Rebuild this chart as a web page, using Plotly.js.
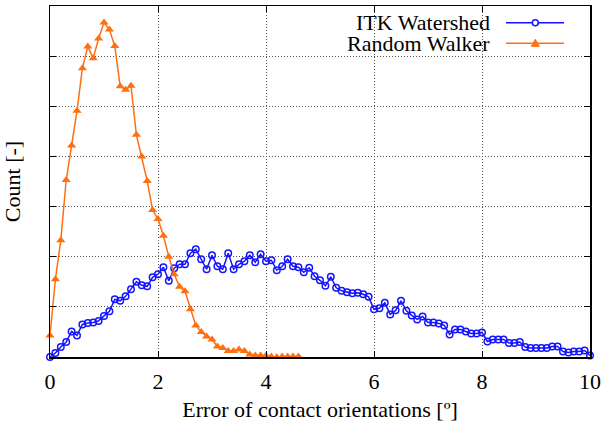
<!DOCTYPE html>
<html>
<head>
<meta charset="utf-8">
<script src="https://cdn.plot.ly/plotly-3.0.1.min.js"></script>
<style>html,body{margin:0;padding:0;background:#fff;}#chart{width:604px;height:430px;}</style>
</head>
<body>
<div id="chart"></div>
<script>
// Error of contact orientations [º] — histogram counts (arbitrary units, y ticks unlabeled)
const rwX = [0.0,0.1,0.2,0.3,0.4,0.5,0.6,0.7,0.8,0.9,1.0,1.1,1.2,1.3,1.4,1.5,1.6,1.7,1.8,1.9,2.0,2.1,2.2,2.3,2.4,2.5,2.6,2.7,2.8,2.9,3.0,3.1,3.2,3.3,3.4,3.5,3.6,3.7,3.8,3.9,4.0,4.1,4.2,4.3,4.4,4.5,4.6];
const rwY = [0.43,1.55,2.33,3.53,4.22,4.91,5.76,6.19,5.96,6.35,6.67,6.53,6.2,5.4,5.33,5.41,4.43,4.0,3.51,2.93,2.75,2.42,2.0,1.65,1.4,1.31,0.95,0.63,0.5,0.41,0.35,0.21,0.18,0.12,0.12,0.15,0.12,0.05,0.03,0.03,0.03,0.01,0.0,0.01,0.01,0.01,0.01];

const itkX = [0.0,0.1,0.2,0.3,0.4,0.5,0.6,0.7,0.8,0.9,1.0,1.1,1.2,1.3,1.4,1.5,1.6,1.7,1.8,1.9,2.0,2.1,2.2,2.3,2.4,2.5,2.6,2.7,2.8,2.9,3.0,3.1,3.2,3.3,3.4,3.5,3.6,3.7,3.8,3.9,4.0,4.1,4.2,4.3,4.4,4.5,4.6,4.7,4.8,4.9,5.0,5.1,5.2,5.3,5.4,5.5,5.6,5.7,5.8,5.9,6.0,6.1,6.2,6.3,6.4,6.5,6.6,6.7,6.8,6.9,7.0,7.1,7.2,7.3,7.4,7.5,7.6,7.7,7.8,7.9,8.0,8.1,8.2,8.3,8.4,8.5,8.6,8.7,8.8,8.9,9.0,9.1,9.2,9.3,9.4,9.5,9.6,9.7,9.8,9.9,10.0];
const itkY = [0.0,0.08,0.2,0.3,0.51,0.43,0.65,0.68,0.69,0.72,0.82,0.91,1.15,1.12,1.21,1.35,1.5,1.43,1.41,1.59,1.65,1.79,1.52,1.77,1.85,1.85,2.07,2.15,1.95,1.75,2.03,1.81,1.75,2.07,1.75,1.85,1.91,2.03,1.89,2.05,1.91,1.93,1.73,1.81,1.95,1.81,1.79,1.69,1.78,1.61,1.53,1.42,1.6,1.38,1.32,1.29,1.27,1.28,1.25,1.2,0.95,0.97,1.08,0.85,0.93,1.12,0.92,0.83,0.75,0.81,0.69,0.69,0.67,0.63,0.45,0.55,0.55,0.51,0.47,0.47,0.49,0.31,0.35,0.35,0.35,0.28,0.28,0.3,0.2,0.18,0.18,0.18,0.18,0.21,0.21,0.11,0.09,0.11,0.11,0.13,0.03];

const xTicks = [0,2,4,6,8,10];
const seriesNames = ['ITK Watershed','Random Walker'];
const blue = '#1414ff';
const orange = '#ff6f12';
const FONT = 'Liberation Serif, Times New Roman, serif';
const FS = 22;

const traces = [
  {x: itkX, y: itkY, type: 'scatter', mode: 'lines+markers', name: seriesNames[0], cliponaxis: false,
   line: {color: blue, width: 1.5},
   marker: {symbol: 'circle-open', size: 6.5, color: blue, line: {width: 1.5, color: blue}}},
  {x: rwX, y: rwY, type: 'scatter', mode: 'lines+markers', name: seriesNames[1], cliponaxis: false,
   line: {color: orange, width: 1.5},
   marker: {symbol: 'triangle-up', size: 8, color: orange}}
];

// Legend drawn manually (text left of sample, as in the reference)
const L = 50, R = 14, T = 6, B = 73, W = 604, H = 430;
const pw = W - L - R, ph = H - T - B;
const px = v => (v - L) / pw;
const py = v => (H - B - v) / ph;
const legRows = [
  {name: seriesNames[0], y: 22.7, color: blue, sym: 'circle'},
  {name: seriesNames[1], y: 43.3, color: orange, sym: 'triangle'}
];
const shapes = [], annotations = [];
legRows.forEach(r => {
  shapes.push({type: 'line', xref: 'paper', yref: 'paper', x0: px(506), x1: px(564), y0: py(r.y), y1: py(r.y),
    line: {color: r.color, width: 1.5}});
  if (r.sym === 'circle') {
    shapes.push({type: 'circle', xref: 'paper', yref: 'paper', x0: px(532.3), x1: px(538.3), y0: py(r.y + 3), y1: py(r.y - 3),
      line: {color: r.color, width: 1.5}, fillcolor: 'white'});
  } else {
    const cx = 535.3, cy = r.y;
    shapes.push({type: 'path', xref: 'paper', yref: 'paper',
      path: `M ${px(cx - 4)} ${py(cy + 3)} L ${px(cx + 4)} ${py(cy + 3)} L ${px(cx)} ${py(cy - 4)} Z`,
      line: {color: r.color, width: 1}, fillcolor: r.color});
  }
  annotations.push({text: r.name, xref: 'paper', yref: 'paper', x: px(492), y: py(r.y), xanchor: 'right', yanchor: 'middle',
    showarrow: false, font: {family: FONT, size: FS, color: '#000'}});
});

const layout = {
  width: W, height: H,
  margin: {l: L, r: R, t: T, b: B},
  paper_bgcolor: '#fff', plot_bgcolor: '#fff',
  showlegend: false,
  font: {family: FONT, size: FS, color: '#000'},
  xaxis: {
    range: [0, 10], tickvals: xTicks, ticktext: xTicks.map(String),
    ticks: 'inside', ticklen: 6, tickwidth: 1, tickcolor: '#000',
    mirror: 'allticks', showline: true, linecolor: '#000', linewidth: 1.5,
    showgrid: true, gridcolor: '#555', gridwidth: 1, griddash: '1px,2px', zeroline: false,
    tickfont: {family: FONT, size: FS}, ticklabelstandoff: 4,
    title: {text: 'Error of contact orientations [º]', font: {family: FONT, size: FS}, standoff: 8}
  },
  yaxis: {
    range: [0, 7], dtick: 1, showticklabels: false,
    ticks: 'inside', ticklen: 6, tickwidth: 1, tickcolor: '#000',
    mirror: 'allticks', showline: true, linecolor: '#000', linewidth: 1.5,
    showgrid: true, gridcolor: '#555', gridwidth: 1, griddash: '1px,2px', zeroline: false,
    title: {text: 'Count [-]', font: {family: FONT, size: FS}, standoff: 22}
  },
  shapes: shapes,
  annotations: annotations
};

Plotly.newPlot('chart', traces, layout, {displayModeBar: false, staticPlot: true});
</script>
</body>
</html>
